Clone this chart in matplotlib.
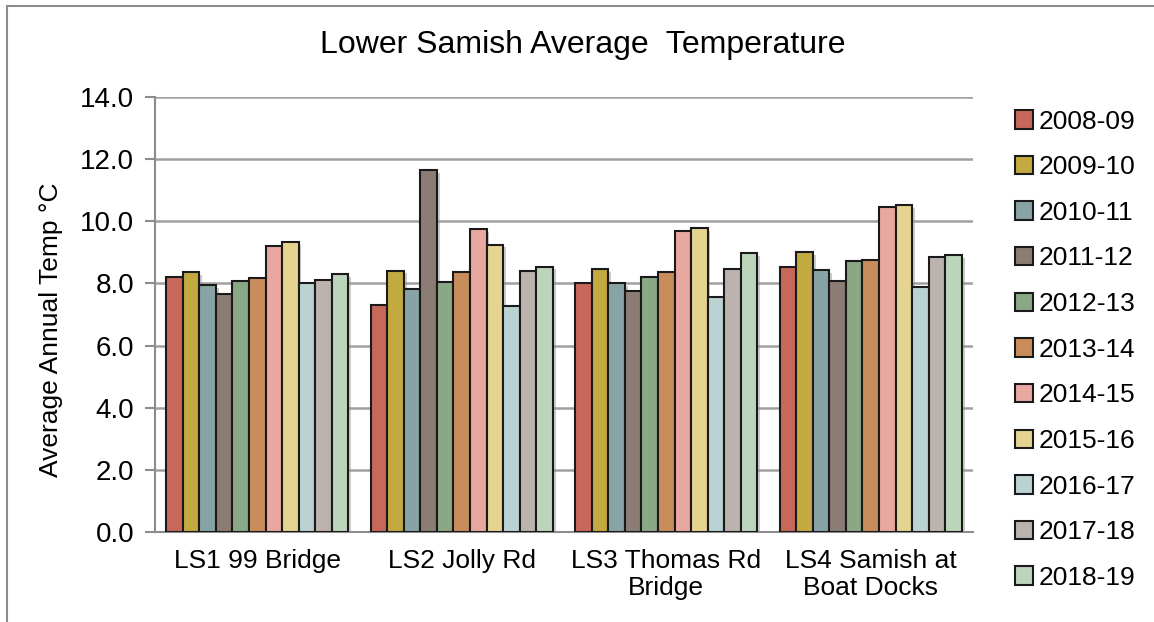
import numpy as np
import matplotlib.pyplot as plt
import matplotlib.patheffects as pe
from matplotlib.patches import Rectangle

plt.rcParams['font.family'] = ['Liberation Sans', 'DejaVu Sans']

sites = ['LS1 99 Bridge', 'LS2 Jolly Rd', 'LS3 Thomas Rd\nBridge', 'LS4 Samish at\nBoat Docks']
years = ['2008-09', '2009-10', '2010-11', '2011-12', '2012-13', '2013-14',
         '2014-15', '2015-16', '2016-17', '2017-18', '2018-19']
colors = ['#C8685B', '#C2AA40', '#88A3A6', '#8B7D74', '#8BA886', '#C98D5B',
          '#E8A89F', '#E5D490', '#BAD2D2', '#BCB3AE', '#BCD4BA']

# one row per year, one column per site
temps = [
    [8.22, 7.30, 8.00, 8.54],
    [8.36, 8.41, 8.46, 9.01],
    [7.95, 7.81, 8.00, 8.43],
    [7.66, 11.65, 7.76, 8.08],
    [8.08, 8.05, 8.21, 8.72],
    [8.19, 8.38, 8.36, 8.76],
    [9.20, 9.75, 9.70, 10.45],
    [9.33, 9.25, 9.77, 10.52],
    [8.00, 7.28, 7.56, 7.88],
    [8.11, 8.41, 8.46, 8.86],
    [8.30, 8.54, 8.97, 8.90],
]

W, H = 1154, 622
fig = plt.figure(figsize=(W / 100, H / 100), dpi=100)
ax = fig.add_axes([155 / W, 1 - 532 / H, (973 - 155) / W, (532 - 97) / H])

# outer chart border
fig.patches.append(Rectangle((7 / W, -0.05), 1.2, 1 - 6 / H + 0.05, transform=fig.transFigure,
                             fill=False, edgecolor='#8C8C8C', linewidth=1.5))

x = np.arange(len(sites))
n = len(years)
bw = 0.89 / n
shadow = [pe.SimplePatchShadow(offset=(2, -2), shadow_rgbFace='#999999', alpha=0.5), pe.Normal()]
for i, yr in enumerate(years):
    ax.bar(x - 0.445 + bw * (i + 0.5), temps[i], width=bw, color=colors[i],
           edgecolor='#1A1A1A', linewidth=1.5, label=yr, zorder=3, path_effects=shadow)

ax.set_xlim(-0.5, len(sites) - 0.5)
ax.set_ylim(0, 14)
ax.set_yticks(np.arange(0, 14.1, 2))
ax.set_yticklabels(['%.1f' % v for v in np.arange(0, 14.1, 2)], fontsize=20)
ax.set_xticks(x)
ax.set_xticklabels(sites, fontsize=19, linespacing=1.15)
ax.tick_params(axis='x', length=0, pad=12)
ax.tick_params(axis='y', length=7, width=1.5, color='#8C8C8C', pad=8)
ax.grid(axis='y', color='#A0A0A0', linewidth=1.8, zorder=0)
for s in ['top', 'right']:
    ax.spines[s].set_visible(False)
for s in ['left', 'bottom']:
    ax.spines[s].set_color('#8C8C8C')
    ax.spines[s].set_linewidth(1.5)

ax.set_ylabel('Average Annual Temp °C', fontsize=19)
ax.yaxis.set_label_coords(-0.112, 0.465)
fig.text(583 / W, 1 - 45 / H, 'Lower Samish Average  Temperature', fontsize=23,
         ha='center', va='center')

leg = ax.legend(loc='upper left', bbox_to_anchor=(1004 / W, 1 - 99 / H), bbox_transform=fig.transFigure,
                frameon=False, fontsize=19, handlelength=0.7, handleheight=0.7,
                handletextpad=0.2, labelspacing=0.82, borderaxespad=0)
for h in leg.legend_handles:
    h.set_path_effects([])

fig.savefig('out.png', dpi=100)
